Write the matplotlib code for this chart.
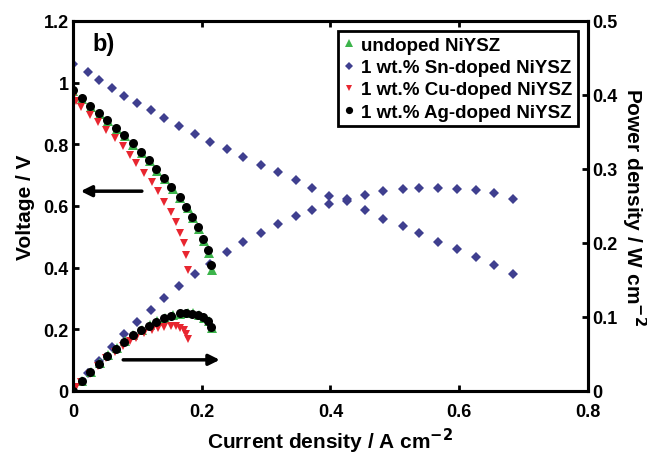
import matplotlib
matplotlib.use("Agg")
import matplotlib.pyplot as plt

plt.rcParams['font.family'] = ['Liberation Sans', 'DejaVu Sans']
plt.rcParams['font.weight'] = 'bold'
plt.rcParams['axes.labelweight'] = 'bold'
plt.rcParams['mathtext.default'] = 'bf'

# ---- data: current density (A cm^-2), voltage (V), power density (W cm^-2)
undoped_i = [0.000, 0.014, 0.028, 0.042, 0.055, 0.068, 0.081, 0.094, 0.107, 0.119,
             0.131, 0.143, 0.155, 0.167, 0.178, 0.187, 0.196, 0.204, 0.211, 0.216]
undoped_v = [0.972, 0.947, 0.922, 0.897, 0.874, 0.850, 0.826, 0.799, 0.772, 0.745,
             0.715, 0.686, 0.656, 0.625, 0.592, 0.560, 0.525, 0.487, 0.447, 0.392]
undoped_p = [0.000, 0.013, 0.026, 0.038, 0.048, 0.058, 0.067, 0.075, 0.083, 0.089,
             0.094, 0.098, 0.102, 0.104, 0.105, 0.105, 0.103, 0.099, 0.094, 0.085]

sn_i = [0.000, 0.023, 0.041, 0.061, 0.080, 0.099, 0.121, 0.142, 0.165, 0.190,
        0.213, 0.239, 0.264, 0.292, 0.319, 0.346, 0.372, 0.398, 0.426, 0.454,
        0.482, 0.512, 0.538, 0.567, 0.597, 0.626, 0.654, 0.683]
sn_v = [1.060, 1.034, 1.007, 0.982, 0.957, 0.933, 0.912, 0.884, 0.858, 0.833,
        0.809, 0.785, 0.760, 0.733, 0.709, 0.684, 0.657, 0.633, 0.615, 0.586,
        0.559, 0.536, 0.511, 0.484, 0.462, 0.435, 0.410, 0.380]
sn_p = [0.000, 0.024, 0.041, 0.060, 0.077, 0.093, 0.110, 0.126, 0.142, 0.158,
        0.172, 0.188, 0.201, 0.214, 0.226, 0.237, 0.245, 0.253, 0.260, 0.265,
        0.270, 0.273, 0.274, 0.274, 0.273, 0.271, 0.267, 0.260]

cu_i = [0.000, 0.005, 0.013, 0.026, 0.039, 0.052, 0.065, 0.077, 0.088, 0.098,
        0.110, 0.122, 0.132, 0.142, 0.152, 0.160, 0.167, 0.172, 0.176, 0.178]
cu_v = [0.955, 0.940, 0.920, 0.895, 0.871, 0.847, 0.820, 0.793, 0.765, 0.738,
        0.708, 0.679, 0.647, 0.614, 0.582, 0.549, 0.511, 0.480, 0.440, 0.392]
cu_p = [0.000, 0.005, 0.012, 0.023, 0.034, 0.044, 0.053, 0.061, 0.067, 0.072,
        0.078, 0.083, 0.085, 0.087, 0.088, 0.088, 0.085, 0.083, 0.077, 0.070]

ag_i = [0.000, 0.014, 0.027, 0.041, 0.053, 0.067, 0.080, 0.093, 0.106, 0.118,
        0.129, 0.142, 0.153, 0.166, 0.176, 0.185, 0.194, 0.202, 0.209, 0.214]
ag_v = [0.975, 0.949, 0.924, 0.900, 0.878, 0.854, 0.830, 0.803, 0.776, 0.749,
        0.719, 0.690, 0.660, 0.630, 0.597, 0.565, 0.532, 0.494, 0.456, 0.408]
ag_p = [0.000, 0.013, 0.025, 0.037, 0.047, 0.057, 0.066, 0.075, 0.082, 0.088,
        0.093, 0.098, 0.101, 0.105, 0.105, 0.104, 0.103, 0.100, 0.095, 0.087]

labels = ['undoped NiYSZ', '1 wt.% Sn-doped NiYSZ',
          '1 wt.% Cu-doped NiYSZ', '1 wt.% Ag-doped NiYSZ']

x_ticks = [0, 0.2, 0.4, 0.6, 0.8]
x_ticklabels = ['0', '0.2', '0.4', '0.6', '0.8']
v_ticks = [0, 0.2, 0.4, 0.6, 0.8, 1.0, 1.2]
v_ticklabels = ['0', '0.2', '0.4', '0.6', '0.8', '1', '1.2']
p_ticks = [0, 0.1, 0.2, 0.3, 0.4, 0.5]
p_ticklabels = ['0', '0.1', '0.2', '0.3', '0.4', '0.5']

# ---- styling
c_green = '#3cb44b'
c_blue = '#3f3f8f'
c_red = '#e82630'
c_black = '#000000'

fig = plt.figure(figsize=(6.47, 4.56), dpi=100)
ax = fig.add_axes([0.1128, 0.1404, 0.7960, 0.8114])
ax2 = ax.twinx()

def series(a, x, y, marker, color, ms):
    return a.plot(x, y, linestyle='none', marker=marker, color=color,
                  markersize=ms, markeredgewidth=0)[0]

# voltage curves (left axis)
h_sn = series(ax, sn_i, sn_v, 'D', c_blue, 5.6)
h_un = series(ax, undoped_i, undoped_v, '^', c_green, 6.5)
h_cu = series(ax, cu_i, cu_v, 'v', c_red, 5.6)
h_ag = series(ax, ag_i, ag_v, 'o', c_black, 6.5)

# power density curves (right axis)
series(ax2, sn_i, sn_p, 'D', c_blue, 5.6)
series(ax2, undoped_i, undoped_p, '^', c_green, 6.5)
series(ax2, cu_i, cu_p, 'v', c_red, 5.6)
series(ax2, ag_i, ag_p, 'o', c_black, 6.5)

ax.set_xlim(0, 0.8)
ax.set_ylim(0, 1.2)
ax2.set_ylim(0, 0.5)

ax.set_xticks(x_ticks)
ax.set_xticklabels(x_ticklabels)
ax.set_yticks(v_ticks)
ax.set_yticklabels(v_ticklabels)
ax2.set_yticks(p_ticks)
ax2.set_yticklabels(p_ticklabels)

for a in (ax, ax2):
    for s in a.spines.values():
        s.set_linewidth(2.2)
    a.tick_params(direction='in', length=4, width=2, labelsize=13, pad=3)
ax.tick_params(axis='x', top=True, pad=9)
for lab in ax.get_xticklabels() + ax.get_yticklabels() + ax2.get_yticklabels():
    lab.set_fontweight('bold')

ax.set_xlabel('Current density / A cm$^{-2}$', fontsize=15,
              fontweight='bold', labelpad=4)
ax.set_ylabel('Voltage / V', fontsize=15, fontweight='bold', labelpad=6)
ax2.set_ylabel('Power density / W cm$^{-2}$', fontsize=15,
               fontweight='bold', rotation=270, labelpad=22)

ax.text(0.031, 1.128, 'b)', fontsize=17, fontweight='bold', va='center')

# direction arrows pointing to the relevant axis
ax.annotate('', xy=(0.012, 0.648), xytext=(0.107, 0.648),
            arrowprops=dict(arrowstyle='-|>', lw=2.5, color='k',
                            mutation_scale=16, shrinkA=0, shrinkB=0))
ax.annotate('', xy=(0.228, 0.101), xytext=(0.078, 0.101),
            arrowprops=dict(arrowstyle='-|>', lw=2.5, color='k',
                            mutation_scale=16, shrinkA=0, shrinkB=0))

leg = ax.legend([h_un, h_sn, h_cu, h_ag], labels, loc='upper right',
                bbox_to_anchor=(0.981, 0.973), borderaxespad=0,
                numpoints=1, handlelength=0.6, markerscale=0.8,
                handletextpad=0.35, labelspacing=0.28, borderpad=0.3,
                fancybox=False, framealpha=1, edgecolor='black',
                prop={'weight': 'bold', 'size': 13.5})
leg.get_frame().set_linewidth(2)
ax.set_zorder(ax2.get_zorder() + 1)
ax.patch.set_visible(False)

fig.savefig('out.png', dpi=100)
